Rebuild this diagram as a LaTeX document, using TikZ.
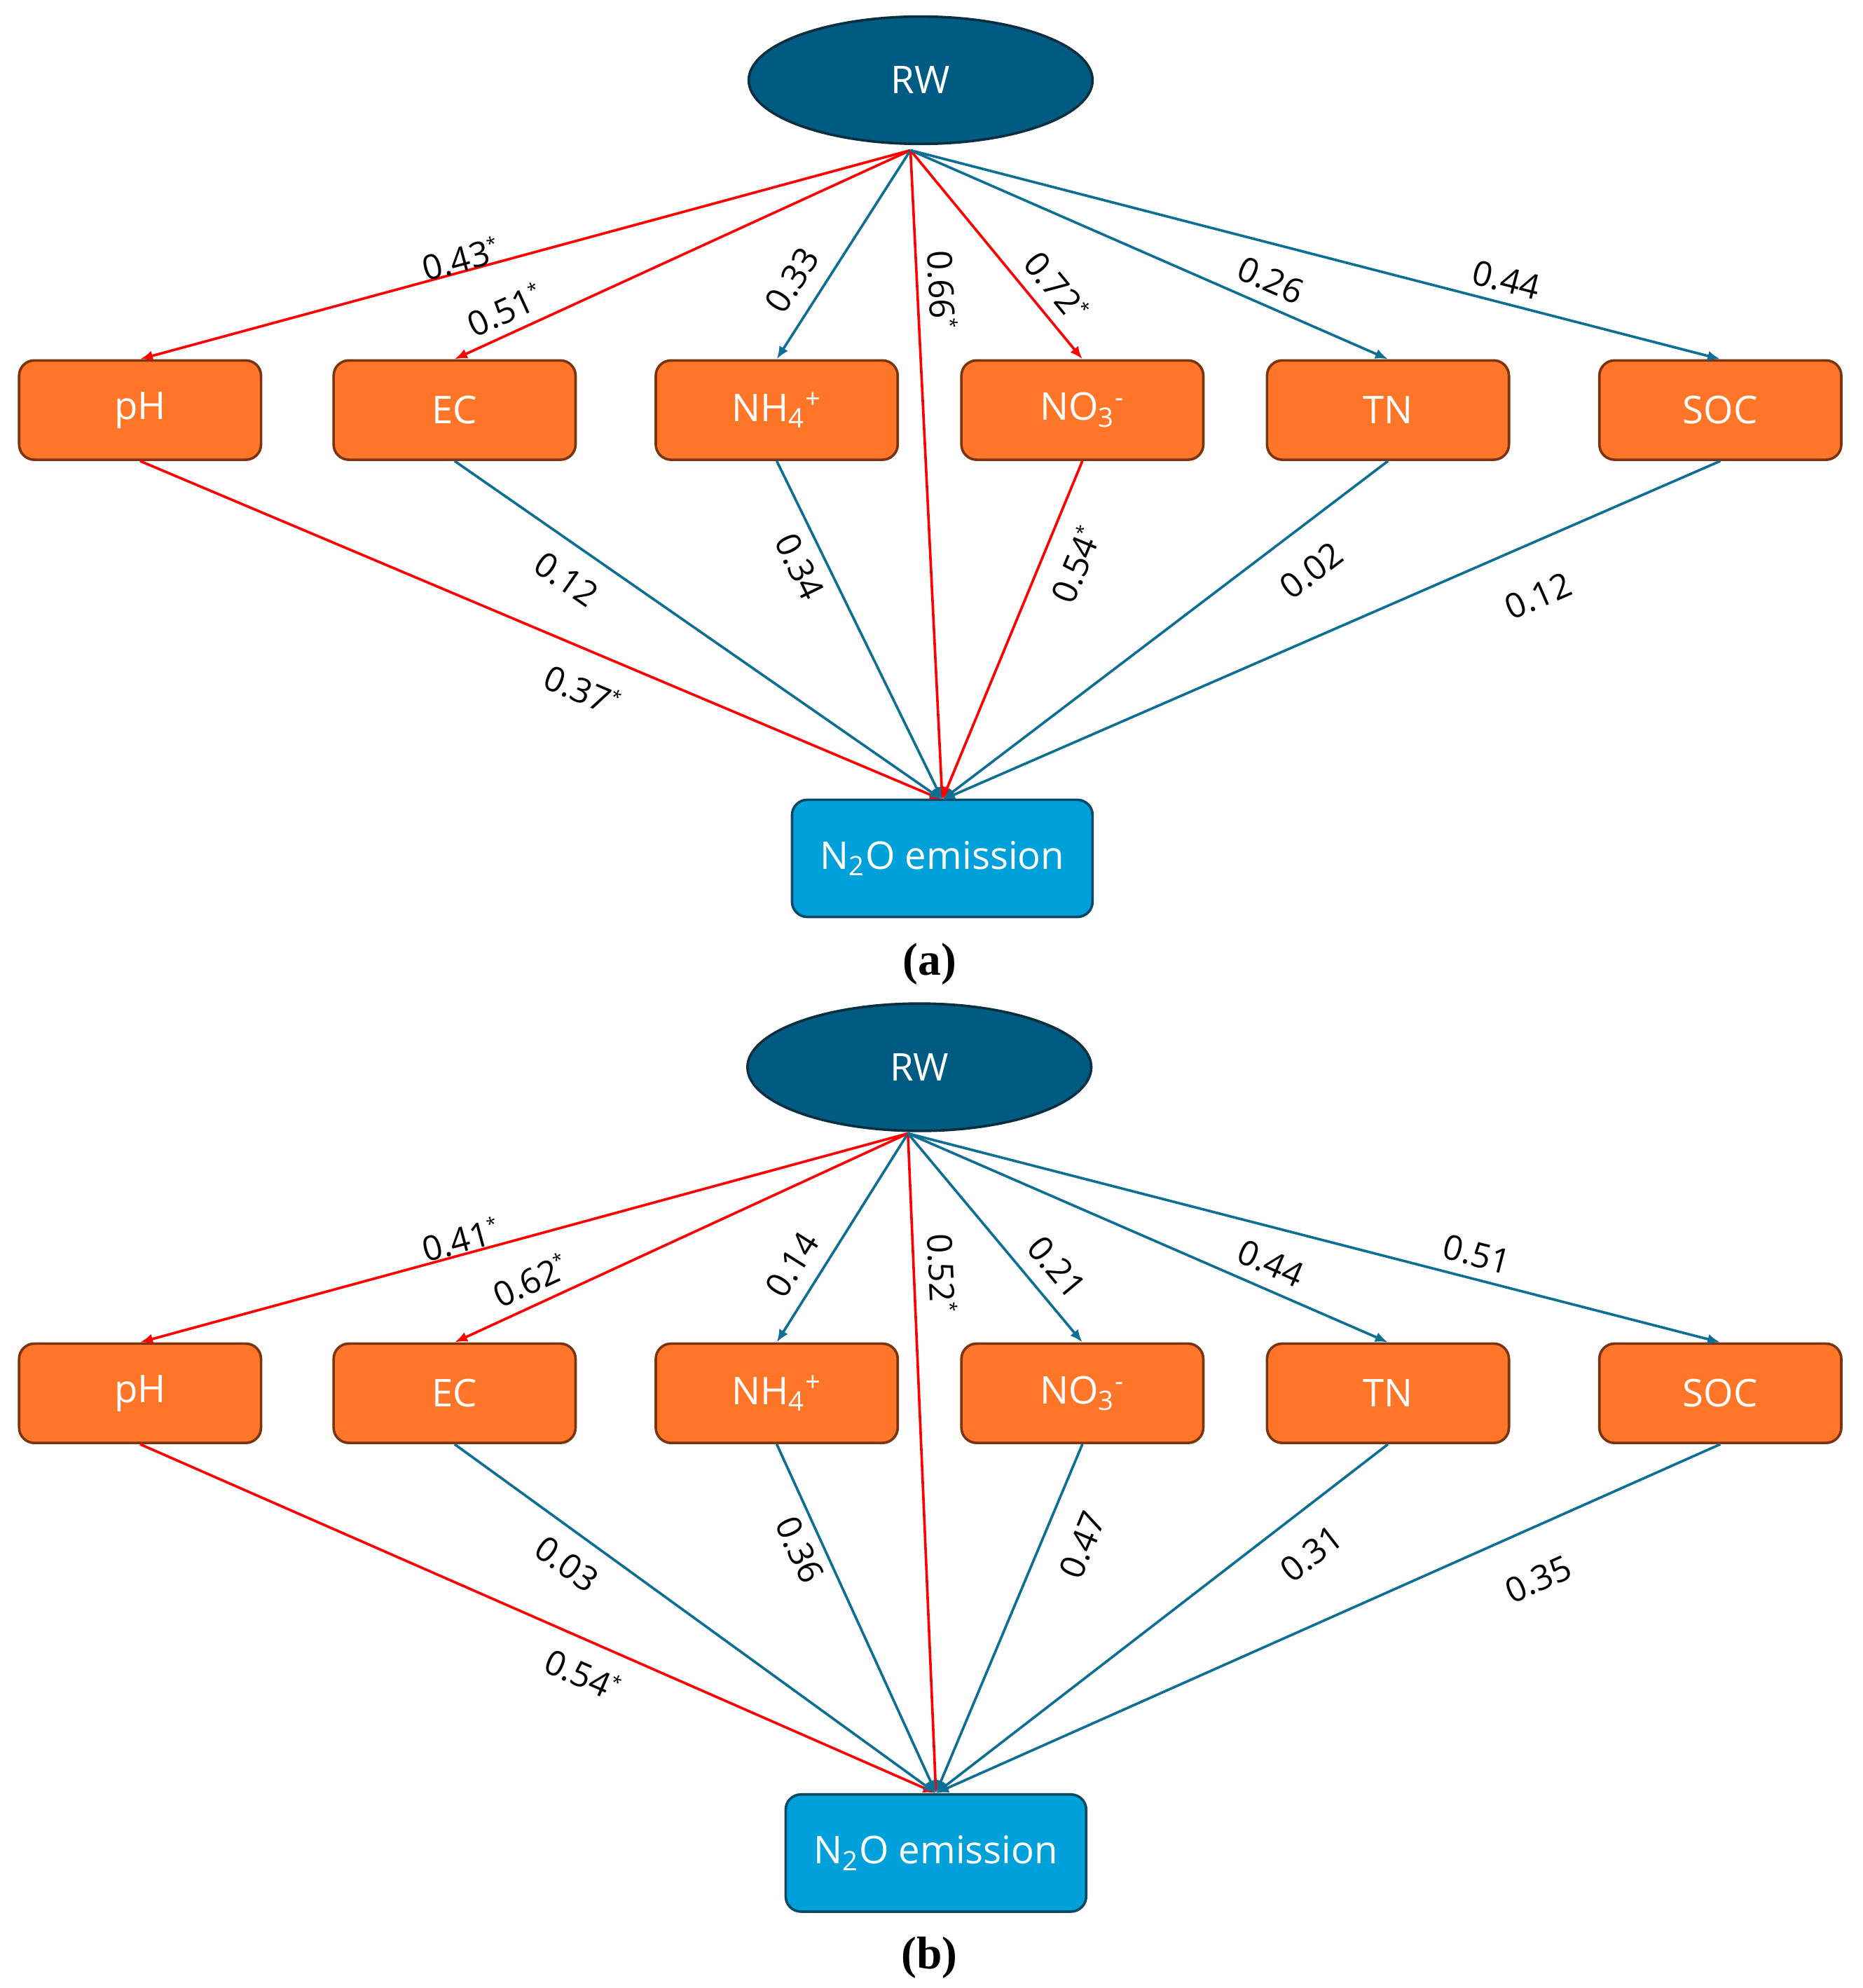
\documentclass[tikz,border=0pt]{standalone}
\usepackage{fontspec}
\setmainfont{Open Sans}
\newfontfamily\serifb{Liberation Serif}
\usetikzlibrary{calc,arrows.meta,shapes.geometric}
\definecolor{rwc}{HTML}{005B82}
\definecolor{rwb}{HTML}{0A2F40}
\definecolor{orc}{HTML}{FF7629}
\definecolor{orb}{HTML}{7A3510}
\definecolor{nc}{HTML}{00A1DA}
\definecolor{nb}{HTML}{0B4A66}
\definecolor{bl}{HTML}{0E6E94}
\definecolor{rd}{HTML}{FF0000}
\tikzset{
 rw/.style={ellipse,fill=rwc,draw=rwb,line width=1pt,minimum width=135pt,minimum height=50pt,text=white,font=\fontsize{15}{17}\selectfont},
 box/.style={rectangle,rounded corners=6pt,fill=orc,draw=orb,line width=1pt,minimum width=95pt,minimum height=39pt,text=white,font=\fontsize{15}{17}\selectfont},
 nbox/.style={rectangle,rounded corners=6pt,fill=nc,draw=nb,line width=1pt,minimum width=118pt,minimum height=46pt,text=white,font=\fontsize{15}{17}\selectfont},
 ar/.style={line width=1pt,-{Latex[length=5pt,width=4pt]}},
 r/.style={ar,draw=rd}, b/.style={ar,draw=bl},
 lbl/.style={font=\fontsize{13.5}{15}\selectfont,inner sep=0pt},
 captxt/.style={font=\serifb\bfseries\fontsize{18}{20}\selectfont}
}
\newcommand\st{\textsuperscript{\scriptsize *}}
\newcommand\lab[4]{\path let \p1=($(#2)-(#1)$), \n1={atan2(\y1,\x1)}, \n2={ifthenelse(\n1>90,\n1-180,ifthenelse(\n1<-90,\n1+180,\n1))} in node[lbl,rotate=\n2] at (#3) {#4};}
\begin{document}
\begin{tikzpicture}[x=0.5pt,y=-0.5pt]
\useasboundingbox (0,0) rectangle (1463,1561);
% ---------- panel a
\node[rw] (rwa) at (723,63) {RW};
\coordinate (sa) at (715,118);
\node[box] (pha) at (110,322) {pH};
\node[box] (eca) at (357,322) {EC};
\node[box] (nha) at (610,322) {NH\textsubscript{4}\textsuperscript{+}};
\node[box] (noa) at (850,322) {NO\textsubscript{3}\textsuperscript{-}};
\node[box] (tna) at (1090,322) {TN};
\node[box] (soa) at (1351,322) {SOC};
\node[nbox] (n2a) at (740,674) {N\textsubscript{2}O emission};
\coordinate (ta) at (740,628);
\node[captxt] (capa) at (730,757) {(a)};
\draw[r] (sa) -- (pha.north);
\draw[r] (sa) -- (eca.north);
\draw[b] (sa) -- (nha.north);
\draw[r] (sa) -- (ta);
\draw[r] (sa) -- (noa.north);
\draw[b] (sa) -- (tna.north);
\draw[b] (sa) -- (soa.north);
\draw[r] (pha.south) -- (ta);
\draw[b] (eca.south) -- (ta);
\draw[b] (nha.south) -- (ta);
\draw[r] (noa.south) -- (ta);
\draw[b] (tna.south) -- (ta);
\draw[b] (soa.south) -- (ta);
\lab{sa}{pha.north}{362,203}{0.43\st}
\lab{sa}{eca.north}{397,243}{0.51\st}
\lab{sa}{nha.north}{622,220}{0.33}
\lab{sa}{ta}{740,228}{0.66\st}
\lab{sa}{noa.north}{830,225}{0.72\st}
\lab{sa}{tna.north}{998,220}{0.26}
\lab{sa}{soa.north}{1183,220}{0.44}
\lab{pha.south}{ta}{458,542}{0.37\st}
\lab{eca.south}{ta}{445,455}{0.12}
\lab{nha.south}{ta}{628,445}{0.34}
\lab{noa.south}{ta}{845,443}{0.54\st}
\lab{tna.south}{ta}{1030,448}{0.02}
\lab{soa.south}{ta}{1208,468}{0.12}
% ---------- panel b
\node[rw] (rwb) at (722,838) {RW};
\coordinate (sb) at (713,890);
\node[box] (phb) at (110,1094) {pH};
\node[box] (ecb) at (357,1094) {EC};
\node[box] (nhb) at (610,1094) {NH\textsubscript{4}\textsuperscript{+}};
\node[box] (nob) at (850,1094) {NO\textsubscript{3}\textsuperscript{-}};
\node[box] (tnb) at (1090,1094) {TN};
\node[box] (sob) at (1351,1094) {SOC};
\node[nbox] (n2b) at (735,1455) {N\textsubscript{2}O emission};
\coordinate (tb) at (735,1408);
\node[captxt] (capb) at (730,1537) {(b)};
\draw[r] (sb) -- (phb.north);
\draw[r] (sb) -- (ecb.north);
\draw[b] (sb) -- (nhb.north);
\draw[r] (sb) -- (tb);
\draw[b] (sb) -- (nob.north);
\draw[b] (sb) -- (tnb.north);
\draw[b] (sb) -- (sob.north);
\draw[r] (phb.south) -- (tb);
\draw[b] (ecb.south) -- (tb);
\draw[b] (nhb.south) -- (tb);
\draw[b] (nob.south) -- (tb);
\draw[b] (tnb.south) -- (tb);
\draw[b] (sob.south) -- (tb);
\lab{sb}{phb.north}{362,973}{0.41\st}
\lab{sb}{ecb.north}{417,1005}{0.62\st}
\lab{sb}{nhb.north}{622,993}{0.14}
\lab{sb}{tb}{740,1000}{0.52\st}
\lab{sb}{nob.north}{830,995}{0.21}
\lab{sb}{tnb.north}{998,992}{0.44}
\lab{sb}{sob.north}{1160,985}{0.51}
\lab{phb.south}{tb}{458,1315}{0.54\st}
\lab{ecb.south}{tb}{445,1228}{0.03}
\lab{nhb.south}{tb}{628,1217}{0.36}
\lab{nob.south}{tb}{850,1213}{0.47}
\lab{tnb.south}{tb}{1030,1220}{0.31}
\lab{sob.south}{tb}{1208,1240}{0.35}
\end{tikzpicture}
\end{document}
